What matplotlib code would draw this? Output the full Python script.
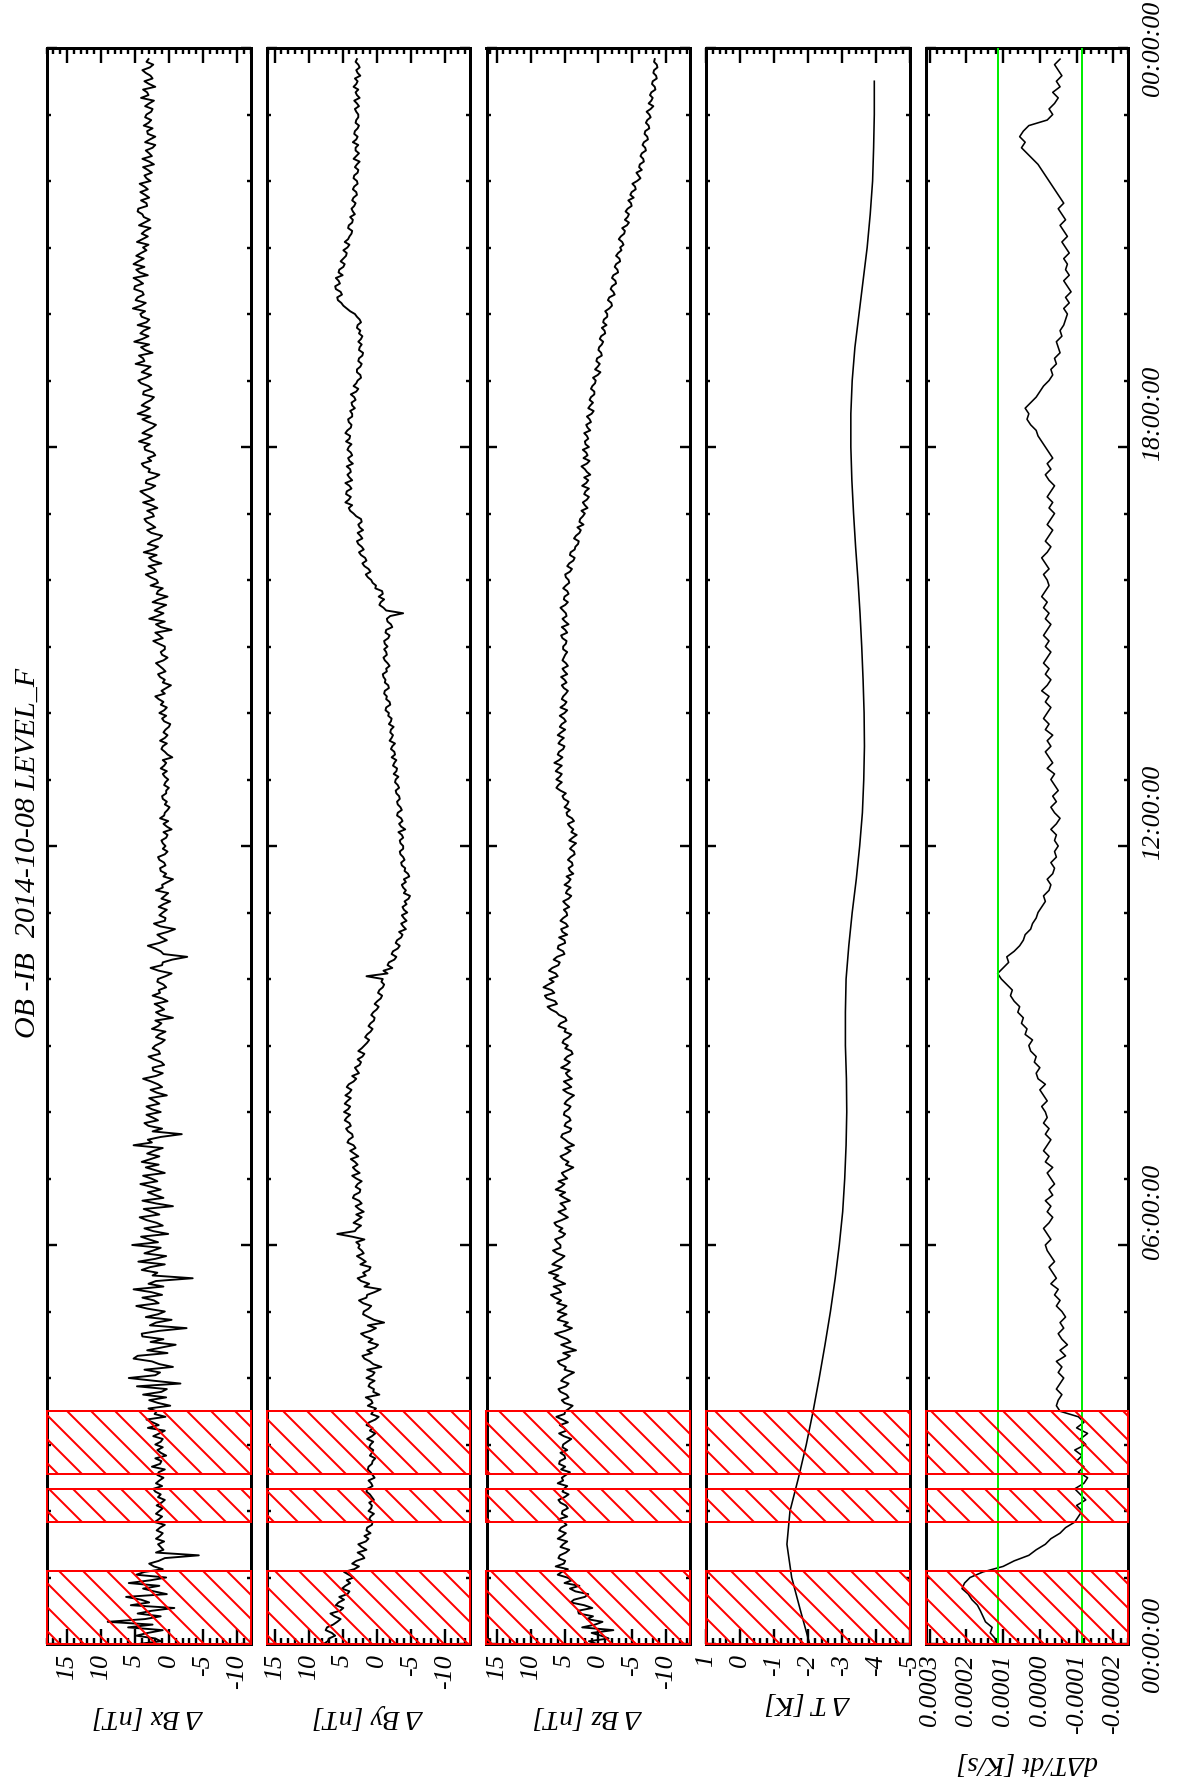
import numpy as np
import matplotlib
matplotlib.use("Agg")
import matplotlib.pyplot as plt
import matplotlib.transforms as mtransforms
from matplotlib.patches import Rectangle
from matplotlib.ticker import MultipleLocator, FixedLocator, FormatStrFormatter, NullFormatter

# ---------------- data ----------------
title = "OB -IB  2014-10-08 LEVEL_F"
time_tick_hours = [0, 6, 12, 18, 24]
time_tick_labels = ["00:00:00", "06:00:00", "12:00:00", "18:00:00", "00:00:00"]
bad_intervals_h = [(0.0, 1.10), (1.83, 2.33), (2.55, 3.50)]
dT_threshold = 1.15e-4

# magnetic field differences [nT], 2.5-minute samples (one row per hour)
Bx = [
    4.5, 1.2, 2.0, 4.8, 3.1, 0.9, 6.0, 2.4, 9.0, 3.5, 1.2, 4.6, 2.5, -0.8, 5.6, 2.9, 4.1, 6.3, 0.3, 2.2, 3.8, 1.4, 5.9, 2.7,
    0.4, 4.8, 3.6, 0.9, 2.2, 2.9, 1.5, 0.6, -4.4, 1.9, 0.8, 1.2, 1.6, 0.7, 1.9, 1.3, 0.9, 1.8, 1.3, 0.6, 2.1, 1.5, 1.0, 1.9,
    1.4, 0.9, 1.8, 1.1, 0.6, 1.6, 1.2, 2.0, 2.3, 1.0, 1.9, 1.4, 0.8, 1.7, 1.5, 0.6, 2.5, 1.3, 1.1, 2.0, 0.4, 1.2, 1.7, 0.9,
    2.0, 1.2, 0.9, 2.3, 1.4, 0.6, 3.1, 1.5, 2.4, 3.3, 0.5, 2.1, 1.8, 3.0, -0.2, 1.6, 2.9, 0.4, 3.8, 1.1, 0.3, 4.7, -1.7, 2.2,
    5.9, 2.0, 1.3, 3.6, -0.6, 1.4, 2.5, 5.2, 4.6, 0.2, 3.2, 1.1, -1.0, 2.7, 0.8, 3.9, 4.0, 1.5, -2.6, 2.8, 1.9, -0.4, 3.4, 1.6,
    0.6, 3.1, 4.8, 1.5, 2.2, 3.9, 1.0, 2.6, 5.2, 0.8, 3.0, 1.9, -3.5, 2.4, 1.7, 4.0, 2.8, 0.6, 4.5, 2.0, 0.4, 3.6, 2.3, 1.2,
    5.4, 1.6, 2.9, 4.1, 0.1, 2.3, 3.6, 0.9, 1.8, 3.3, 4.3, 1.4, 2.5, 3.7, -0.6, 1.9, 3.9, 0.8, 2.0, 3.1, 1.2, 2.6, 4.2, 1.7,
    2.6, 3.8, 0.6, 2.0, 3.4, 1.5, 4.0, 2.7, 1.4, 3.2, 2.2, 0.9, 5.2, 2.5, 3.1, 1.2, -1.9, 2.4, 1.0, 3.0, 3.6, 1.6, 2.4, 3.3,
    1.2, 2.5, 3.3, 1.4, 2.1, 2.9, 0.3, 1.8, 2.7, 1.0, 1.6, 2.6, 3.8, 1.9, 0.9, 2.3, 2.4, 0.7, 1.1, 2.2, 3.0, 1.3, 1.5, 2.4,
    2.0, 1.1, 0.6, 1.9, 1.4, 0.5, 2.5, 1.6, 1.1, 2.0, -0.6, 1.2, 1.9, 0.7, 1.3, 2.1, 0.2, 1.0, 2.4, 1.3, 1.5, 0.4, 0.8, 1.7,
    1.6, 0.5, -0.4, 1.5, 2.7, 1.0, 0.9, -0.5, -2.7, 0.8, 1.2, 2.0, 3.1, 1.4, 0.3, 1.1, 1.7, 0.2, -0.9, 1.3, 2.2, 0.6, 0.5, 1.4,
    0.9, 0.3, 1.5, 0.8, -0.2, 1.1, 0.6, 0.1, 1.9, 0.9, 1.0, 0.2, -0.6, 0.8, 0.4, 1.2, 1.3, 0.5, 0.7, 1.4, 1.6, 0.6, 0.2, 0.9,
    0.5, 0.9, 1.1, 0.4, 0.2, 0.8, -0.4, 0.3, 0.8, 0.1, 1.3, 0.7, 0.6, 0.2, -0.1, 0.6, 0.3, 0.9, 1.0, 0.4, 0.4, 0.0, 0.7, 0.5,
    0.1, 0.6, 0.9, 0.3, 1.2, 0.7, 0.4, 0.9, -0.5, 0.2, 0.6, 1.1, 0.9, 0.3, 1.3, 0.6, 0.2, 0.8, 0.5, 0.0, -0.2, 0.7, 1.0, 0.4,
    1.4, 0.7, 0.3, 1.2, 0.8, 1.5, 2.0, 0.6, 1.1, 0.4, -0.3, 0.9, 0.6, 1.3, 1.6, 0.5, 0.9, 1.4, 1.9, 0.8, 0.2, 1.0, 1.2, 0.6,
    0.6, 1.5, 2.3, 0.9, 1.4, 2.0, -0.4, 1.2, 1.9, 0.6, 2.9, 1.7, 0.8, 2.1, 1.3, 0.4, 2.4, 1.5, 0.2, 1.8, 1.6, 0.9, 2.7, 1.6,
    1.8, 2.7, 3.4, 1.9, 2.2, 3.0, 1.1, 2.4, 2.9, 1.8, 3.7, 2.3, 1.6, 3.1, 2.5, 1.4, 1.0, 2.6, 3.2, 2.0, 2.6, 3.3, 3.6, 2.2,
    2.4, 3.2, 1.7, 2.6, 3.8, 2.2, 2.9, 3.6, 4.2, 2.7, 2.0, 3.4, 3.3, 2.1, 1.4, 3.0, 2.8, 3.7, 4.0, 2.6, 3.1, 2.0, 2.3, 3.5,
    3.6, 2.8, 4.4, 3.3, 2.5, 3.9, 3.2, 2.4, 1.9, 3.0, 3.9, 2.7, 4.6, 3.5, 2.8, 4.0, 3.4, 2.6, 2.2, 3.8, 3.7, 2.5, 3.0, 4.1,
    4.5, 3.4, 2.6, 4.0, 3.3, 2.7, 4.9, 3.6, 3.8, 4.4, 2.4, 3.5, 4.1, 2.9, 5.1, 3.9, 3.0, 4.2, 3.7, 2.8, 4.6, 3.3, 2.9, 4.0,
    4.2, 3.5, 5.3, 4.1, 3.4, 4.9, 4.6, 3.7, 3.9, 5.1, 5.0, 3.8, 4.4, 5.2, 3.1, 4.3, 4.8, 3.6, 5.2, 4.5, 3.7, 4.8, 4.1, 3.3,
    3.8, 3.0, 4.7, 3.9, 3.1, 4.0, 3.5, 2.7, 4.4, 3.6, 2.8, 3.7, 3.9, 4.6, 4.5, 3.2, 3.3, 4.1, 2.9, 3.5, 4.2, 3.1, 3.6, 4.3,
    2.7, 3.3, 3.6, 2.5, 3.1, 3.8, 2.2, 2.9, 3.9, 2.5, 2.9, 3.4, 2.4, 2.0, 3.5, 2.8, 2.0, 3.1, 3.2, 2.4, 3.7, 3.0, 2.6, 3.5,
    3.3, 2.6, 2.4, 3.5, 2.9, 2.2, 4.1, 3.0, 3.2, 3.8, 2.0, 2.9, 3.6, 2.4, 2.7, 3.4, 3.9, 2.8, 2.3, 3.3, 3.0,
]
By = [
    7.8, 7.2, 7.0, 6.1, 6.6, 7.5, 7.3, 6.4, 5.8, 5.3, 6.2, 6.8, 5.4, 4.9, 6.0, 5.6, 4.8, 5.5, 4.3, 4.0, 5.1, 4.6, 3.9, 4.4,
    3.4, 4.1, 4.8, 3.3, 2.6, 3.6, 3.0, 1.8, 2.1, 2.8, 1.5, 2.2, 2.7, 1.6, 1.2, 1.8, 0.9, 1.5, 1.4, 0.7, 0.6, 1.1, 0.9, 0.4,
    1.2, 0.8, 0.7, 1.1, 0.4, 0.7, 1.0, 1.5, 1.4, 0.6, 0.8, 1.2, 0.3, 0.6, 0.9, 1.3, 1.2, 0.7, 0.6, 0.2, 1.0, 0.7, 0.5, 1.1,
    0.9, 0.5, 1.4, 0.7, 0.2, 1.0, 0.6, 1.5, 1.1, 0.2, -0.3, 0.8, 0.5, 0.1, 1.3, 0.6, 0.8, 1.6, -0.4, 0.5, 0.4, 1.2, 1.0, 0.3,
    1.5, 0.6, 0.3, 1.4, -0.7, 0.5, 1.0, 1.8, 2.1, 0.7, 1.4, 0.2, -0.2, 1.2, 0.6, 1.7, 2.3, 0.9, 0.1, 1.3, -1.1, 0.4, 1.2, 2.0,
    1.9, 1.2, 0.8, 2.0, 2.6, 1.5, 1.4, 0.3, -0.6, 1.8, 1.1, 2.3, 2.8, 1.6, 2.0, 1.1, 0.9, 2.4, 1.6, 2.2, 2.9, 1.9, 2.2, 2.7,
    2.5, 3.0, 1.8, 3.6, 5.8, 3.2, 2.9, 2.3, 3.4, 2.8, 2.2, 3.0, 1.9, 2.6, 3.1, 2.2, 2.6, 3.5, 3.3, 2.5, 2.4, 3.1, 2.8, 2.2,
    3.0, 3.6, 2.5, 3.1, 3.5, 2.8, 3.2, 3.8, 2.7, 3.3, 3.9, 3.1, 3.4, 4.3, 4.1, 3.5, 3.6, 4.2, 4.5, 3.8, 4.0, 4.7, 4.4, 3.9,
    4.8, 4.2, 3.9, 4.7, 4.3, 3.8, 4.6, 4.0, 3.7, 4.4, 4.1, 3.4, 3.0, 3.6, 2.6, 2.9, 3.2, 2.5, 2.3, 2.8, 2.1, 1.8, 2.7, 2.2,
    1.8, 1.4, 1.1, 1.7, 1.4, 0.9, 0.6, 1.2, 0.9, 0.4, 0.3, 0.8, 0.5, 0.0, -0.3, 0.3, -0.1, -0.6, -0.8, -0.2, -0.4, -0.9, -1.1, -0.7,
    -0.9, 1.5, -1.6, -1.0, -2.3, -1.6, -1.8, -2.6, -2.9, -2.2, -2.4, -3.1, -3.4, -2.8, -3.0, -3.6, -3.8, -3.3, -4.3, -3.9, -3.6, -4.4, -4.0, -3.7,
    -4.5, -4.0, -3.8, -4.4, -4.1, -4.7, -4.9, -4.0, -4.3, -3.9, -3.7, -4.3, -4.0, -4.8, -4.6, -4.1, -4.2, -3.7, -3.6, -4.1, -3.9, -3.5, -3.4, -3.9,
    -3.9, -3.5, -3.4, -3.9, -3.7, -3.2, -4.2, -3.6, -3.3, -3.8, -3.6, -3.0, -3.1, -3.7, -3.5, -3.1, -3.0, -3.4, -3.3, -2.9, -2.8, -3.3, -3.1, -2.7,
    -2.8, -3.2, -2.5, -2.9, -3.0, -2.4, -2.6, -2.9, -2.2, -2.7, -2.6, -2.1, -2.3, -2.7, -1.9, -2.2, -2.4, -2.0, -2.1, -2.5, -1.8, -2.1, -2.2, -1.7,
    -1.8, -1.3, -1.4, -2.0, -1.9, -1.4, -1.5, -1.1, -1.2, -1.8, -1.7, -1.2, -1.3, -1.0, -0.9, -1.5, -1.4, -1.9, -1.6, -1.2, -1.0, -1.5, -1.4, -1.1,
    -1.6, -1.2, -1.1, -1.7, -1.9, -1.3, -1.4, -2.3, -2.1, -1.6, -1.5, -2.0, -3.9, -1.4, -1.0, -0.4, -0.6, -1.1, -0.3, -0.9, -0.8, 0.2, 0.1, 0.6,
    0.8, 1.3, 1.6, 0.9, 1.2, 1.8, 2.1, 1.5, 1.7, 2.3, 2.6, 1.9, 2.2, 2.7, 2.9, 2.1, 2.4, 2.8, 2.0, 2.5, 2.7, 2.2, 2.3, 3.0,
    3.4, 3.9, 4.1, 3.6, 4.6, 4.1, 3.8, 4.5, 4.4, 3.7, 4.0, 4.6, 3.6, 4.0, 4.3, 3.8, 3.9, 4.4, 3.5, 4.0, 4.2, 3.6, 3.8, 4.3,
    4.1, 3.7, 4.5, 4.0, 3.9, 4.6, 4.3, 3.8, 3.7, 4.1, 4.2, 3.6, 3.6, 3.9, 3.2, 3.6, 3.7, 3.1, 3.3, 3.8, 3.0, 2.7, 3.4, 3.0,
    2.8, 2.3, 2.4, 2.9, 2.9, 2.4, 2.2, 2.7, 2.6, 2.1, 2.0, 2.6, 2.5, 2.2, 2.7, 2.3, 2.1, 2.6, 2.4, 2.9, 2.8, 2.3, 2.5, 2.9,
    3.2, 3.9, 4.4, 4.9, 5.2, 5.7, 5.8, 5.1, 5.3, 6.0, 6.1, 5.4, 5.6, 6.0, 5.0, 5.6, 5.5, 4.9, 4.7, 5.3, 4.9, 4.5, 4.4, 4.9,
    4.3, 4.0, 4.7, 4.2, 4.0, 3.7, 3.6, 4.2, 4.1, 3.6, 3.5, 3.9, 3.2, 3.5, 3.7, 3.3, 3.1, 3.6, 3.4, 2.9, 3.0, 3.5, 3.3, 2.8,
    2.9, 3.4, 3.3, 2.8, 2.7, 3.2, 2.9, 2.5, 3.4, 3.0, 2.6, 3.1, 3.1, 2.7, 3.5, 3.0, 2.8, 3.3, 3.2, 2.8, 2.6, 3.1, 3.0, 2.7,
    2.7, 3.0, 3.2, 2.6, 2.9, 3.3, 2.5, 2.9, 3.1, 2.7, 3.4, 3.0, 2.8, 3.2, 2.4, 2.8, 3.0, 2.5, 2.7, 3.1, 2.9,
]
Bz = [
    0.2, 1.4, -1.5, -0.4, 1.0, -2.2, 2.4, 0.5, -0.6, 1.7, 0.8, 2.9, 3.0, 0.9, 2.1, 4.1, 3.6, 2.0, 1.5, 3.4, 4.2, 2.8, 5.0, 3.9,
    4.6, 6.0, 5.4, 4.5, 6.3, 5.1, 4.9, 5.9, 5.7, 4.8, 4.3, 5.6, 5.2, 4.6, 6.0, 5.3, 4.8, 5.8, 5.5, 4.7, 5.1, 5.9, 4.6, 5.4,
    5.3, 4.5, 4.8, 5.6, 5.9, 5.0, 4.4, 5.3, 5.1, 4.6, 6.0, 5.2, 5.4, 4.8, 4.2, 5.5, 4.9, 5.8, 5.7, 4.9, 5.0, 5.6, 4.6, 5.3,
    5.2, 4.6, 4.0, 5.1, 5.8, 4.7, 5.1, 5.7, 4.5, 5.3, 6.2, 5.0, 4.9, 4.3, 3.8, 5.0, 5.4, 4.4, 4.7, 5.6, 5.9, 4.8, 4.4, 5.5,
    5.1, 4.4, 3.6, 5.0, 4.8, 5.7, 6.0, 4.8, 4.2, 5.2, 3.3, 4.5, 5.5, 4.1, 4.6, 5.6, 6.4, 4.9, 3.9, 5.1, 4.5, 6.0, 5.6, 4.7,
    6.0, 5.2, 4.7, 6.1, 5.5, 6.4, 7.0, 5.5, 5.8, 6.6, 4.9, 5.8, 6.6, 5.9, 7.3, 6.2, 5.4, 6.8, 6.2, 5.5, 5.0, 6.1, 6.7, 5.6,
    5.6, 6.1, 6.4, 5.3, 4.9, 5.8, 5.3, 6.2, 6.5, 5.4, 4.5, 5.2, 5.9, 4.8, 5.1, 5.6, 4.2, 5.0, 5.7, 4.9, 6.3, 5.5, 5.0, 5.9,
    4.6, 5.1, 5.4, 4.5, 3.7, 4.8, 4.4, 5.2, 5.6, 4.7, 4.1, 4.9, 3.6, 4.4, 4.9, 5.5, 5.3, 4.2, 4.0, 5.0, 4.8, 4.1, 4.3, 5.1,
    5.0, 4.4, 4.1, 5.0, 4.7, 4.2, 3.6, 4.6, 5.2, 4.0, 4.5, 5.1, 3.9, 4.5, 4.8, 4.2, 5.5, 4.7, 4.2, 5.0, 4.6, 3.8, 4.0, 4.9,
    4.5, 5.3, 5.1, 4.4, 4.0, 5.0, 4.8, 5.9, 5.6, 4.7, 4.9, 5.8, 6.2, 7.0, 7.5, 6.1, 6.4, 7.6, 7.9, 6.5, 6.9, 8.1, 7.4, 6.6,
    7.2, 6.0, 6.3, 7.3, 6.8, 5.9, 5.7, 6.6, 6.1, 5.0, 5.2, 6.0, 5.9, 4.9, 5.0, 5.8, 4.6, 5.3, 5.5, 4.5, 4.8, 5.6, 5.2, 4.6,
    4.7, 5.1, 4.3, 4.8, 5.2, 4.4, 4.0, 4.8, 4.6, 4.1, 5.0, 4.4, 4.1, 4.7, 3.7, 4.2, 4.4, 3.8, 3.9, 4.5, 4.1, 3.5, 3.6, 4.2,
    3.8, 3.3, 4.3, 3.8, 3.2, 4.0, 3.7, 4.2, 4.5, 3.6, 3.9, 4.6, 4.7, 4.2, 5.0, 4.6, 4.4, 5.1, 5.3, 4.8, 5.6, 6.2, 5.9, 5.4,
    6.2, 5.7, 5.4, 6.3, 5.9, 5.4, 6.5, 5.8, 5.3, 6.0, 5.8, 5.2, 5.0, 5.9, 5.6, 5.1, 6.0, 5.5, 4.9, 5.7, 5.4, 4.8, 5.1, 5.7,
    5.0, 4.6, 5.6, 5.0, 4.7, 5.4, 5.2, 4.8, 4.5, 5.1, 5.4, 4.7, 5.0, 5.5, 4.6, 5.0, 5.3, 4.5, 4.8, 5.3, 5.1, 4.9, 4.6, 5.2,
    5.2, 4.8, 4.7, 5.3, 5.5, 4.6, 4.9, 5.4, 4.4, 4.9, 5.3, 4.7, 4.8, 5.2, 5.6, 4.9, 4.5, 5.1, 5.0, 4.4, 4.6, 5.2, 4.8, 4.3,
    4.4, 4.8, 4.9, 4.2, 3.9, 4.6, 4.3, 3.7, 3.5, 4.2, 4.1, 3.5, 3.4, 3.0, 2.9, 3.6, 3.3, 2.8, 2.6, 3.1, 2.2, 2.8, 2.7, 2.3,
    2.0, 2.5, 1.6, 2.0, 2.3, 1.7, 1.4, 2.1, 1.9, 1.4, 2.4, 1.8, 1.5, 2.1, 1.2, 1.7, 2.0, 2.5, 1.7, 1.3, 2.2, 1.6, 1.8, 2.3,
    1.4, 1.9, 2.0, 1.5, 1.7, 2.1, 1.2, 1.6, 1.8, 1.1, 1.3, 1.7, 1.0, 0.7, 1.5, 1.2, 0.8, 1.3, 1.1, 0.6, 0.6, 1.1, 0.9, 0.5,
    0.4, 0.8, 0.1, -0.3, 0.5, 0.1, -0.2, 0.3, 0.2, -0.5, -0.4, 0.0, -0.1, -0.5, -0.7, -0.2, -0.4, -1.0, -0.9, -0.5, -1.2, -0.7, -0.8, -1.3,
    -1.3, -1.0, -1.6, -2.0, -1.9, -1.4, -1.6, -2.4, -2.2, -1.8, -2.0, -2.6, -2.5, -2.0, -2.2, -2.9, -2.8, -2.4, -2.6, -3.2, -3.1, -2.6, -2.9, -3.4,
    -3.2, -3.7, -3.5, -3.0, -3.3, -3.8, -3.9, -3.5, -4.2, -4.5, -3.9, -4.3, -4.5, -4.0, -4.3, -4.9, -4.8, -4.4, -5.2, -4.7, -4.9, -5.5, -5.4, -5.0,
    -5.7, -6.2, -5.9, -5.6, -6.4, -6.0, -6.1, -6.7, -6.6, -6.2, -6.4, -7.0, -6.9, -6.5, -6.7, -7.3, -7.2, -6.8, -6.9, -7.5, -7.4, -7.0, -7.2, -7.7,
    -7.5, -7.1, -7.7, -8.1, -7.4, -7.8, -8.0, -7.6, -7.8, -8.4, -8.3, -7.9, -8.0, -8.6, -8.5, -8.1, -8.2, -8.7, -8.6, -8.2, -8.3,
]
# temperature difference [K], 30-minute samples
dT_K = [
    -2.05, -1.78, -1.52, -1.38, -1.47, -1.72, -1.95, -2.15, -2.33, -2.50, -2.66, -2.80,
    -2.92, -3.02, -3.08, -3.12, -3.14, -3.13, -3.10, -3.10, -3.12, -3.20, -3.30, -3.42,
    -3.52, -3.60, -3.64, -3.66, -3.65, -3.62, -3.58, -3.53, -3.47, -3.40, -3.34, -3.29,
    -3.26, -3.26, -3.30, -3.38, -3.50, -3.62, -3.74, -3.83, -3.90, -3.93, -3.95, -3.95,
]
# temperature rate, 5-minute samples, in units of 1e-4 K/s
dTdt_1e4 = [
    1.18, 1.22, 1.35, 1.30, 1.48, 1.55, 1.62, 1.70, 1.85, 1.95, 2.12, 2.05,
    1.90, 1.55, 1.00, 0.70, 0.30, 0.10, -0.15, -0.30, -0.55, -0.70, -0.95, -1.05,
    -1.15, -1.00, -1.25, -1.10, -0.95, -1.20, -1.30, -1.05, -1.20, -1.00, -1.15, -0.95,
    -1.25, -1.10, -1.30, -1.00, -1.20, -1.05, -0.55, -0.45, -0.50, -0.60, -0.45, -0.55,
    -0.65, -0.50, -0.60, -0.45, -0.70, -0.55, -0.75, -0.60, -0.50, -0.65, -0.55, -0.70,
    -0.60, -0.45, -0.55, -0.40, -0.50, -0.30, -0.45, -0.35, -0.25, -0.40, -0.30, -0.20,
    -0.15, -0.30, -0.20, -0.10, -0.25, -0.35, -0.20, -0.30, -0.15, -0.35, -0.25, -0.40,
    -0.30, -0.20, -0.35, -0.15, -0.25, -0.10, -0.20, -0.30, -0.15, -0.25, -0.10, -0.20,
    -0.15, -0.05, -0.20, -0.10, 0.00, -0.15, 0.05, 0.10, 0.00, 0.15, 0.10, 0.25,
    0.30, 0.20, 0.40, 0.35, 0.50, 0.45, 0.60, 0.55, 0.70, 0.80, 0.75, 0.90,
    1.05, 1.15, 1.00, 0.85, 0.90, 0.70, 0.55, 0.45, 0.40, 0.25, 0.20, 0.10,
    0.05, -0.05, -0.15, -0.10, -0.25, -0.30, -0.20, -0.35, -0.40, -0.30, -0.45, -0.40,
    -0.50, -0.40, -0.45, -0.30, -0.45, -0.55, -0.40, -0.30, -0.45, -0.35, -0.50, -0.40,
    -0.30, -0.40, -0.20, -0.35, -0.25, -0.15, -0.30, -0.20, -0.35, -0.15, -0.25, -0.10,
    -0.20, -0.30, -0.15, -0.25, -0.05, -0.20, -0.30, -0.15, -0.25, -0.10, -0.20, -0.30,
    -0.15, -0.25, -0.10, -0.20, -0.30, -0.15, -0.25, -0.10, -0.20, -0.05, -0.15, -0.25,
    -0.20, -0.10, -0.25, -0.15, -0.05, -0.20, -0.30, -0.15, -0.25, -0.35, -0.20, -0.30,
    -0.40, -0.25, -0.35, -0.20, -0.30, -0.40, -0.25, -0.15, -0.30, -0.20, -0.35, -0.25,
    -0.15, -0.05, 0.05, 0.10, 0.25, 0.35, 0.30, 0.40, 0.25, 0.10, 0.00, -0.10,
    -0.25, -0.35, -0.30, -0.45, -0.40, -0.55, -0.50, -0.45, -0.60, -0.55, -0.65, -0.70,
    -0.75, -0.65, -0.80, -0.70, -0.85, -0.75, -0.65, -0.80, -0.70, -0.75, -0.65, -0.80,
    -0.70, -0.60, -0.75, -0.65, -0.55, -0.70, -0.60, -0.50, -0.65, -0.55, -0.45, -0.35,
    -0.25, -0.15, -0.05, 0.05, 0.20, 0.35, 0.50, 0.40, 0.55, 0.45, 0.30, -0.20,
    -0.35, -0.25, -0.40, -0.50, -0.35, -0.55, -0.45, -0.60, -0.50, -0.40, -0.55,
]

t_B = np.arange(len(Bx)) * 2.5 / 60.0
t_T = np.arange(len(dT_K)) * 30.0 / 60.0
t_R = np.arange(len(dTdt_1e4)) * 5.0 / 60.0
dTdt = np.array(dTdt_1e4) * 1e-4

panels = [
    dict(t=t_B, v=Bx, xlim=(18, -12), ticks=[15, 10, 5, 0, -5, -10], minor=1,
         fmt="%d", label="Δ Bx [nT]", lw=0.95, lab_y=1716),
    dict(t=t_B, v=By, xlim=(16.2, -13.8), ticks=[15, 10, 5, 0, -5, -10], minor=1,
         fmt="%d", label="Δ By [nT]", lw=0.95, lab_y=1716),
    dict(t=t_B, v=Bz, xlim=(16.5, -13.5), ticks=[15, 10, 5, 0, -5, -10], minor=1,
         fmt="%d", label="Δ Bz [nT]", lw=0.95, lab_y=1716),
    dict(t=t_T, v=dT_K, xlim=(1.0, -5.0), ticks=[1, 0, -1, -2, -3, -4, -5], minor=0.2,
         fmt="%d", label="Δ T [K]", lw=0.8, lab_y=1702),
    dict(t=t_R, v=dTdt, xlim=(3.1e-4, -2.4e-4),
         ticks=[3e-4, 2e-4, 1e-4, 0.0, -1e-4, -2e-4], minor=2e-5,
         fmt="%.4f", label="dΔT/dt [K/s]", lw=0.8, lab_y=1762),
]

# ---------------- style ----------------
plt.rcParams['font.family'] = ['Liberation Serif', 'DejaVu Serif']
plt.rcParams['font.style'] = 'italic'
plt.rcParams['hatch.color'] = 'red'
plt.rcParams['hatch.linewidth'] = 1.0
plt.rcParams['axes.unicode_minus'] = False

W, H, DPI = 1180, 1782, 144
fig = plt.figure(figsize=(W / DPI, H / DPI), dpi=DPI)
fig.patch.set_facecolor('white')

lefts = [46.5, 266.5, 486.5, 706.0, 926.0]
widths = [204.0, 204.0, 203.5, 204.0, 202.0]
top_px, bot_px = 48.0, 1644.0

axes = []
for i, p in enumerate(panels):
    ax = fig.add_axes([lefts[i] / W, 1 - bot_px / H, widths[i] / W, (bot_px - top_px) / H])
    ax.plot(p['v'], p['t'], color='black', lw=p['lw'], zorder=2)
    ax.set_xlim(*p['xlim'])
    ax.set_ylim(0, 24)
    ax.xaxis.set_major_locator(FixedLocator(p['ticks']))
    ax.xaxis.set_minor_locator(MultipleLocator(p['minor']))
    ax.xaxis.set_major_formatter(FormatStrFormatter(p['fmt']))
    ax.yaxis.set_major_locator(FixedLocator(time_tick_hours))
    ax.yaxis.set_minor_locator(MultipleLocator(1))
    ax.yaxis.set_major_formatter(NullFormatter())
    ax.tick_params(axis='x', which='both', direction='in', top=True, bottom=True,
                   width=1.2, labelsize=13, labelrotation=90, pad=5)
    ax.tick_params(axis='x', which='major', length=7.5)
    ax.tick_params(axis='x', which='minor', length=3.0)
    ax.tick_params(axis='y', which='both', direction='in', left=True, right=True,
                   labelleft=False, labelright=False, width=1.2)
    ax.tick_params(axis='y', which='major', length=5.0)
    ax.tick_params(axis='y', which='minor', length=2.2)
    for s in ax.spines.values():
        s.set_linewidth(1.5)
    for (t0, t1) in bad_intervals_h:
        ax.add_patch(Rectangle((p['xlim'][0], t0), p['xlim'][1] - p['xlim'][0], t1 - t0,
                               facecolor='none', edgecolor='red', hatch='\\\\',
                               lw=1.0, zorder=5, clip_on=False))
    fig.text((lefts[i] + widths[i] / 2) / W, 1 - p['lab_y'] / H, p['label'],
             rotation=180, ha='center', va='center', fontsize=14)
    axes.append(ax)

ax5 = axes[-1]
for thr in (dT_threshold, -dT_threshold):
    ax5.axvline(thr, color='#00ee00', lw=1.0, zorder=3)

# time labels to the right of the last panel (inner labels sit above their tick)
label_shift_pt = [0, 17, 17, 17, 0]
base = mtransforms.blended_transform_factory(ax5.transAxes, ax5.transData)
for h, lab, dy in zip(time_tick_hours, time_tick_labels, label_shift_pt):
    off = mtransforms.ScaledTranslation(7 / 72, dy / 72, fig.dpi_scale_trans)
    ax5.text(1.0, h, lab, transform=base + off, rotation=90, ha='left', va='center',
             fontsize=13, clip_on=False)

fig.text(28 / W, 1 - 853 / H, title, rotation=90, ha='center', va='center', fontsize=15)

fig.savefig('out.png', dpi=DPI)
